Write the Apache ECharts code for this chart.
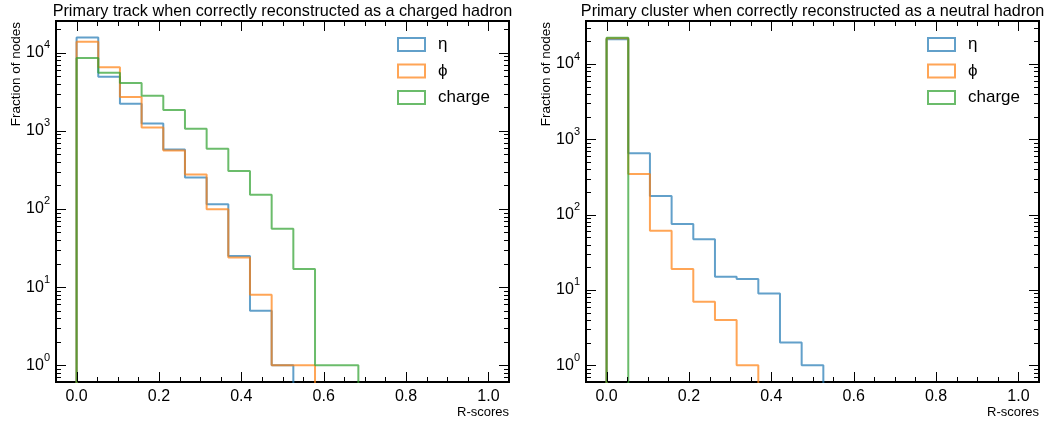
<!DOCTYPE html>
<html>
<head>
<meta charset="utf-8">
<script src="https://cdn.jsdelivr.net/npm/echarts@6/dist/echarts.min.js"></script>
<style>
html, body { margin: 0; padding: 0; background: #fff; }
#chart { width: 1048px; height: 421px; }
</style>
</head>
<body>
<div id="chart"></div>
<script>
// 19 bins over [0, 1]
var nBins = 19;
var edges = [];
for (var i = 0; i <= nBins; i++) edges.push(i / nBins);

var seriesNames = ['η', 'ϕ', 'charge'];

// left: primary track, charged hadron
var chEta    = [15600, 4930, 2220, 1240, 578, 253, 115, 25, 5, 1, 0, 0, 0, 0, 0, 0, 0, 0, 0];
var chPhi    = [13800, 6480, 2700, 1100, 561, 277, 99, 24, 8, 1, 1, 0, 0, 0, 0, 0, 0, 0, 0];
var chCharge = [8530, 5540, 4080, 2810, 1840, 1064, 590, 305, 152, 56, 17, 1, 1, 0, 0, 0, 0, 0, 0];

// right: primary cluster, neutral hadron
var nhEta    = [21300, 652, 177, 75, 47, 15, 14, 9, 2, 1, 0, 0, 0, 0, 0, 0, 0, 0, 0];
var nhPhi    = [21950, 346, 61, 19, 7, 4, 1, 0, 0, 0, 0, 0, 0, 0, 0, 0, 0, 0, 0];
var nhCharge = [22300, 0, 0, 0, 0, 0, 0, 0, 0, 0, 0, 0, 0, 0, 0, 0, 0, 0, 0];

var xTickLabels = ['0.0', '0.2', '0.4', '0.6', '0.8', '1.0'];

var colors = ['#1f77b4', '#ff7f0e', '#2ca02c'];
var colorsA = ['rgba(31,119,180,0.7)', 'rgba(255,127,14,0.7)', 'rgba(44,160,44,0.7)'];
var FONT = 'Liberation Sans, Arial, Helvetica, sans-serif';
var FLOOR = 1e-3; // below the axis, gets clipped (like log(0) in mpl)

var xMin = -0.05, xMax = 1.05;
var yRange = [[0.611, 25400], [0.6, 37200]];
var grids = [
  { left: 56, top: 21, width: 453, height: 361 },
  { left: 586, top: 21, width: 453, height: 361 }
];

// histtype='step' outline
function stepPoints(counts) {
  var n = counts.length;
  while (n > 0 && counts[n - 1] === 0) n--;
  var pts = [[edges[0], FLOOR]];
  for (var i = 0; i < n; i++) {
    var y = counts[i] > 0 ? counts[i] : FLOOR;
    pts.push([edges[i], y], [edges[i + 1], y]);
  }
  pts.push([edges[n], FLOOR]);
  return pts;
}

// inward ticks on all four sides, mpl style
function tickRenderer(gi) {
  return function (params, api) {
    var cs = params.coordSys;
    var L = cs.x, T = cs.y, R = cs.x + cs.width, B = cs.y + cs.height;
    var kids = [];
    function ln(x1, y1, x2, y2) {
      kids.push({ type: 'line', shape: { x1: x1, y1: y1, x2: x2, y2: y2 },
        style: { stroke: '#000', lineWidth: 1 } });
    }
    for (var k = 0; k <= 20; k++) {
      var v = k * 0.05;
      var px = Math.round(api.coord([v, 1])[0]) + 0.5;
      var len = (k % 4 === 0) ? 10 : 5;
      ln(px, B, px, B - len);
      ln(px, T, px, T + len);
    }
    var yr = yRange[gi];
    for (var d = -1; d <= 5; d++) {
      for (var m = 1; m <= 9; m++) {
        var yv = m * Math.pow(10, d);
        if (yv <= yr[0] || yv >= yr[1]) continue;
        var py = Math.round(api.coord([0, yv])[1]) + 0.5;
        var l2 = (m === 1) ? 10 : 5;
        ln(L, py, L + l2, py);
        ln(R, py, R - l2, py);
      }
    }
    return { type: 'group', children: kids };
  };
}

function xLabel(v) {
  var q = v * 5;
  if (Math.abs(q - Math.round(q)) > 1e-6) return '';
  var idx = Math.round(q);
  return idx >= 0 && idx < xTickLabels.length ? xTickLabels[idx] : '';
}
function yLabel(v) {
  var lg = Math.log10(v);
  var e = Math.round(lg);
  if (Math.abs(lg - e) > 1e-6) return '';
  return '{b|10}{s|' + e + '}';
}

var data = [[chEta, chPhi, chCharge], [nhEta, nhPhi, nhCharge]];

var option = {
  animation: false,
  backgroundColor: '#fff',
  textStyle: { fontFamily: FONT },
  grid: grids.map(function (g) {
    return { left: g.left, top: g.top, width: g.width, height: g.height,
      show: true, borderColor: '#000', borderWidth: 2, backgroundColor: 'transparent' };
  }),
  xAxis: grids.map(function (g, gi) {
    return { type: 'value', gridIndex: gi, min: xMin, max: xMax, interval: 0.05,
      axisLine: { show: false }, axisTick: { show: false }, splitLine: { show: false },
      axisLabel: { formatter: xLabel, color: '#000', fontSize: 16, margin: 7, fontFamily: FONT } };
  }),
  yAxis: grids.map(function (g, gi) {
    return { type: 'log', logBase: 10, gridIndex: gi, min: yRange[gi][0], max: yRange[gi][1],
      axisLine: { show: false }, axisTick: { show: false }, splitLine: { show: false },
      axisLabel: { formatter: yLabel, color: '#000', margin: 6,
        rich: {
          b: { fontSize: 16, lineHeight: 26, verticalAlign: 'middle', fontFamily: FONT, color: '#000' },
          s: { fontSize: 11, lineHeight: 12, verticalAlign: 'top', fontFamily: FONT, color: '#000' }
        } } };
  }),
  legend: [
    { left: 397, top: 36 },
    { left: 927, top: 36 }
  ].map(function (p) {
    return { left: p.left, top: p.top, padding: 0, orient: 'vertical', itemWidth: 27, itemHeight: 13, itemGap: 9.5,
      icon: 'rect', selectedMode: false,
      textStyle: { fontSize: 17, color: '#000', fontFamily: FONT, padding: [0, 0, 0, 8] },
      data: seriesNames.map(function (n, i) {
        return { name: n, itemStyle: { color: 'rgba(0,0,0,0)', borderColor: colorsA[i], borderWidth: 2 } };
      }) };
  }),
  series: [],
  graphic: []
};

data.forEach(function (panel, gi) {
  panel.forEach(function (counts, si) {
    option.series.push({
      name: seriesNames[si], type: 'line', xAxisIndex: gi, yAxisIndex: gi,
      data: stepPoints(counts), symbol: 'none', showSymbol: false, clip: true,
      color: colors[si],
      lineStyle: { color: colors[si], width: 2, opacity: 0.7 },
      z: 2 + si
    });
  });
  option.series.push({
    type: 'custom', xAxisIndex: gi, yAxisIndex: gi, silent: true, z: 10,
    data: [[0, 1]], renderItem: tickRenderer(gi)
  });
});

var titles = ['Primary track when correctly reconstructed as a charged hadron',
              'Primary cluster when correctly reconstructed as a neutral hadron'];
grids.forEach(function (g, gi) {
  option.graphic.push(
    { type: 'text', x: g.left + g.width / 2, y: 12,
      style: { text: titles[gi], fontSize: 16.2, fontFamily: FONT, fill: '#000', align: 'center', verticalAlign: 'middle' } },
    { type: 'text', x: g.left - 40, y: g.top + 1, rotation: Math.PI / 2,
      style: { text: 'Fraction of nodes', fontSize: 13.5, fontFamily: FONT, fill: '#000', align: 'right', verticalAlign: 'middle' } },
    { type: 'text', x: g.left + g.width, y: 412,
      style: { text: 'R-scores', fontSize: 13, fontFamily: FONT, fill: '#000', align: 'right', verticalAlign: 'middle' } }
  );
});

var myChart = echarts.init(document.getElementById('chart'));
myChart.setOption(option);
</script>
</body>
</html>
